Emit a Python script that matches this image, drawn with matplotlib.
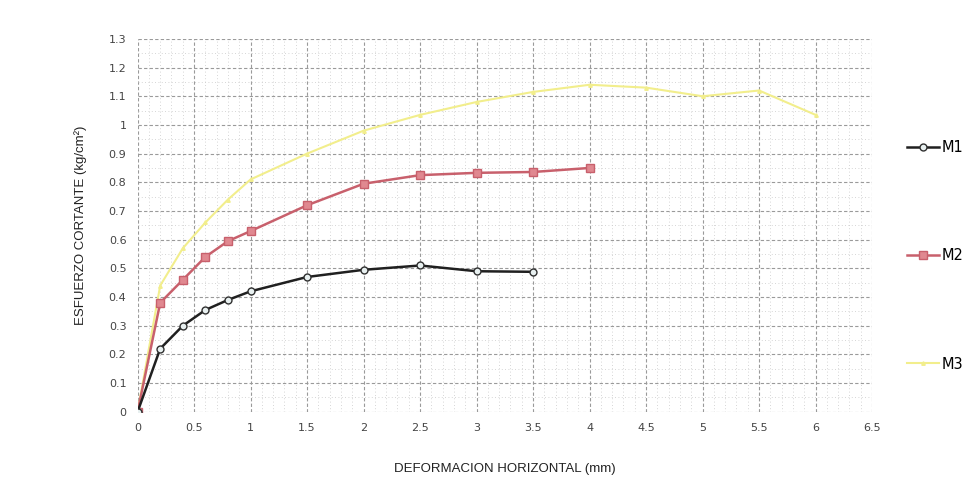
import numpy as np
import matplotlib
matplotlib.use('Agg')
import matplotlib.pyplot as plt
from matplotlib.ticker import MultipleLocator

# datos del ensayo de corte directo
m1_x = [0, 0.2, 0.4, 0.6, 0.8, 1.0, 1.5, 2.0, 2.5, 3.0, 3.5]
m1_y = [0, 0.22, 0.30, 0.355, 0.39, 0.42, 0.47, 0.495, 0.51, 0.49, 0.488]

m2_x = [0, 0.2, 0.4, 0.6, 0.8, 1.0, 1.5, 2.0, 2.5, 3.0, 3.5, 4.0]
m2_y = [0, 0.38, 0.46, 0.54, 0.595, 0.63, 0.72, 0.795, 0.825, 0.833, 0.836, 0.85]

m3_x = [0, 0.2, 0.4, 0.6, 0.8, 1.0, 1.5, 2.0, 2.5, 3.0, 3.5, 4.0, 4.5, 5.0, 5.5, 6.0]
m3_y = [0, 0.44, 0.57, 0.66, 0.74, 0.81, 0.90, 0.98, 1.035, 1.08, 1.115, 1.14, 1.13, 1.10, 1.12, 1.035]

fig = plt.figure(figsize=(9.69, 4.92), dpi=100)
ax = fig.add_axes([0.142, 0.163, 0.758, 0.758])

ax.plot(m1_x, m1_y, color='#202020', lw=1.8, marker='o', ms=5,
        mfc='#e8f0f0', mec='#303030', mew=1.0, label='M1', zorder=5)
ax.plot(m2_x, m2_y, color='#c8606c', lw=1.8, marker='s', ms=5.5,
        mfc='#e08890', mec='#c8606c', mew=1.0, label='M2', zorder=4)
ax.plot(m3_x, m3_y, color='#f2ee8c', lw=1.5, marker='^', ms=2.5,
        mfc='#f2ee8c', mec='#f2ee8c', label='M3', zorder=3)

ax.set_xlim(0, 6.5)
ax.set_ylim(0, 1.3)
ax.xaxis.set_minor_locator(MultipleLocator(0.1))
ax.yaxis.set_minor_locator(MultipleLocator(0.05))

xt = np.arange(0, 6.51, 0.5)
ax.set_xticks(xt)
ax.set_xticklabels(['%g' % v for v in xt])
yt = np.arange(0, 1.31, 0.1)
ax.set_yticks(yt)
ax.set_yticklabels(['%g' % round(v, 1) for v in yt])

ax.grid(which='major', color='#9a9a9a', ls=(0, (3, 2)), lw=0.8)
ax.grid(which='minor', color='#c8c8c8', ls=(0, (1, 3)), lw=0.6)
for s in ax.spines.values():
    s.set_visible(False)
ax.tick_params(which='both', length=0, labelsize=8, colors='#444444', pad=8)

ax.set_xlabel('DEFORMACION HORIZONTAL (mm)', fontsize=9.5, color='#222222',
              family='Liberation Sans', labelpad=22)
ax.set_ylabel('ESFUERZO CORTANTE (kg/cm²)', fontsize=9.5, color='#222222',
              family='Liberation Sans', labelpad=16)

# leyenda a la derecha, entradas separadas
for lbl, yy, line in [('M1', 0.70, ax.lines[0]), ('M2', 0.48, ax.lines[1]), ('M3', 0.26, ax.lines[2])]:
    fig.legend([line], [lbl], loc='center left', bbox_to_anchor=(0.922, yy),
               frameon=False, fontsize=10.5, handlelength=2.2, handletextpad=0.2)

fig.savefig('out.png', dpi=100)
